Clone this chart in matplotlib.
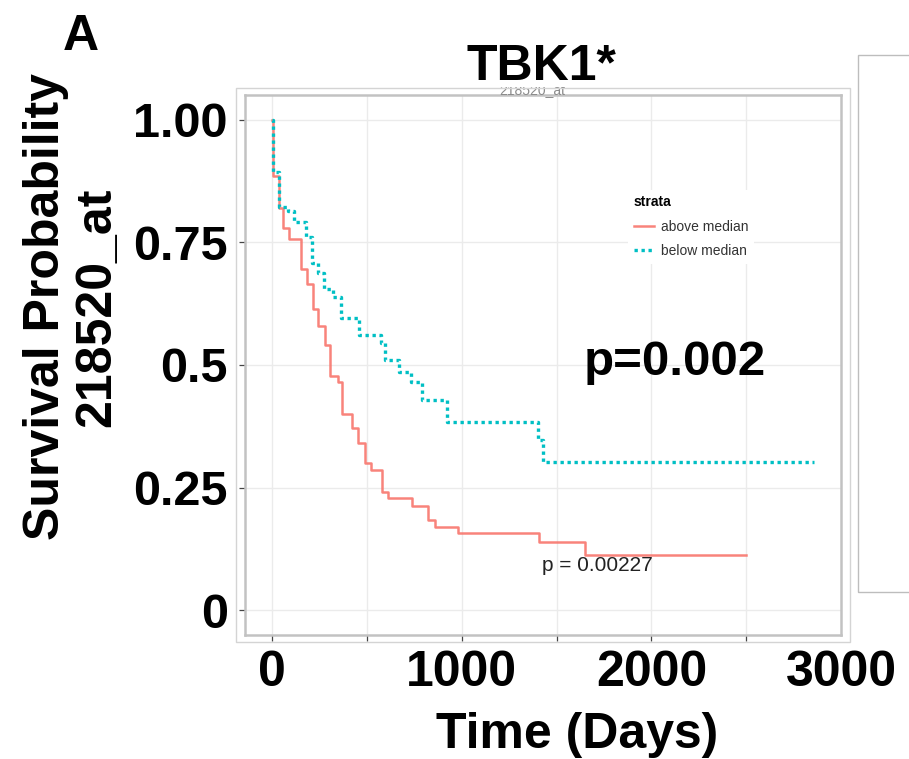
import matplotlib
matplotlib.use("Agg")
import matplotlib.pyplot as plt
from matplotlib.lines import Line2D
from matplotlib.patches import Rectangle

plt.rcParams['font.family'] = ['Liberation Sans', 'DejaVu Sans']

# Kaplan-Meier steps: event day and survival just after it
above_days = [3, 35, 57, 89, 150, 183, 215, 243, 279, 307, 345, 371, 420, 454,
              488, 520, 579, 609, 737, 824, 861, 981, 1409, 1652]
above_surv = [0.884, 0.819, 0.780, 0.757, 0.696, 0.665, 0.615, 0.579, 0.541, 0.478,
              0.466, 0.400, 0.371, 0.342, 0.301, 0.287, 0.242, 0.229, 0.213, 0.185,
              0.170, 0.157, 0.139, 0.112]
above_last = 2500

below_days = [3, 35, 84, 115, 177, 212, 242, 274, 322, 361, 456, 573, 595, 669,
              733, 792, 924, 1403, 1431]
below_surv = [0.893, 0.822, 0.813, 0.791, 0.761, 0.707, 0.688, 0.654, 0.639, 0.595,
              0.561, 0.544, 0.510, 0.486, 0.466, 0.429, 0.384, 0.348, 0.302]
below_last = 2860

strata = ['above median', 'below median']
colors = ['#F8766D', '#00BFC4']

y_ticks = [0, 0.25, 0.5, 0.75, 1.0]
y_ticklabels = ['0', '0.25', '0.5', '0.75', '1.00']
x_ticks = [0, 500, 1000, 1500, 2000, 2500]
x_labelticks = [0, 1000, 2000, 3000]

W, H = 909, 759
fig = plt.figure(figsize=(W / 100, H / 100), dpi=100)


def fx(px):
    return px / W


def fy(py):
    return 1 - py / H


ax = fig.add_axes([fx(245), fy(635), fx(841.5) - fx(245), fy(95) - fy(635)])


def km(days, surv, last):
    xs = [0] + days + [last]
    ys = [1.0] + surv + [surv[-1]]
    return xs, ys


red_kw = dict(color=colors[0], lw=1.8, alpha=0.9)
blue_kw = dict(color=colors[1], lw=2.4, linestyle=(0, (1.0, 1.1)))

xr, yr = km(above_days, above_surv, above_last)
xb, yb = km(below_days, below_surv, below_last)
ax.step(xr, yr, where='post', zorder=3, **red_kw)
ax.step(xb, yb, where='post', zorder=4, **blue_kw)

ax.set_xlim(-143, 3003)
ax.set_ylim(-0.05, 1.05)
ax.set_xticks(x_ticks)
ax.set_xticklabels([])
ax.set_yticks(y_ticks)
ax.set_yticklabels(y_ticklabels, fontsize=35, fontweight='bold')
ax.grid(True, color='#ebebeb', lw=1.0, zorder=0)
ax.set_axisbelow(True)
ax.tick_params(axis='both', length=4.5, width=0.9, color='#444444')
ax.tick_params(axis='y', pad=8)
for s in ax.spines.values():
    s.set_color('#c2c2c2')
    s.set_linewidth(1.8)

# big day labels under the panel
sec = ax.secondary_xaxis('bottom')
sec.set_xticks(x_labelticks)
sec.set_xticklabels([str(v) for v in x_labelticks], fontsize=36, fontweight='bold')
sec.tick_params(length=0, pad=11)
sec.spines['bottom'].set_visible(False)

handles = [Line2D([], [], **red_kw), Line2D([], [], **blue_kw)]
leg = ax.legend(handles, strata, title='strata', loc='upper left',
                bbox_to_anchor=(fx(621), fy(183)), bbox_transform=fig.transFigure,
                fontsize=10, title_fontproperties={'weight': 'bold', 'size': 10},
                frameon=True, fancybox=False, framealpha=1, edgecolor='white',
                handlelength=1.5, handletextpad=0.5, labelspacing=0.75,
                borderpad=0.4, alignment='left')
leg.get_frame().set_linewidth(0)
for t in leg.get_texts():
    t.set_color('#333333')

ax.text(1425, 0.08, 'p = 0.00227', fontsize=15, color='#222222', va='baseline')
ax.text(1641, 0.479, 'p=0.002', fontsize=35.5, fontweight='bold', va='baseline')

# gene subtitle, mostly hidden behind the title block
fig.text(fx(532), fy(94), '218520_at', fontsize=10, color='#8a8a8a',
         ha='center', va='baseline', zorder=2)
fig.patches.append(Rectangle((fx(470), fy(86.5)), fx(620) - fx(470), fy(20) - fy(86.5),
                             transform=fig.transFigure, facecolor='white',
                             edgecolor='none', zorder=3))
fig.text(fx(541), fy(80), 'TBK1*', fontsize=36, fontweight='bold',
         ha='center', va='baseline', zorder=4)

# frames around the panel and the neighbouring panel
fig.patches.append(Rectangle((fx(236), fy(642)), fx(850) - fx(236), fy(87.5) - fy(642),
                             transform=fig.transFigure, fill=False,
                             edgecolor='#d4d4d4', lw=1.0, zorder=5))
fig.patches.append(Rectangle((fx(858), fy(592)), fx(915) - fx(858), fy(55) - fy(592),
                             transform=fig.transFigure, fill=False,
                             edgecolor='#bdbdbd', lw=1.0, zorder=5))

fig.text(fx(63), fy(50), 'A', fontsize=36, fontweight='bold',
         ha='left', va='baseline')
fig.text(fx(72), fy(307), 'Survival Probability\n218520_at', fontsize=36,
         fontweight='bold', rotation=90, ha='center', va='center',
         multialignment='center', linespacing=1.15)
fig.text(fx(577), fy(748), 'Time (Days)', fontsize=36, fontweight='bold',
         ha='center', va='baseline')

fig.savefig('out.png', dpi=100)
